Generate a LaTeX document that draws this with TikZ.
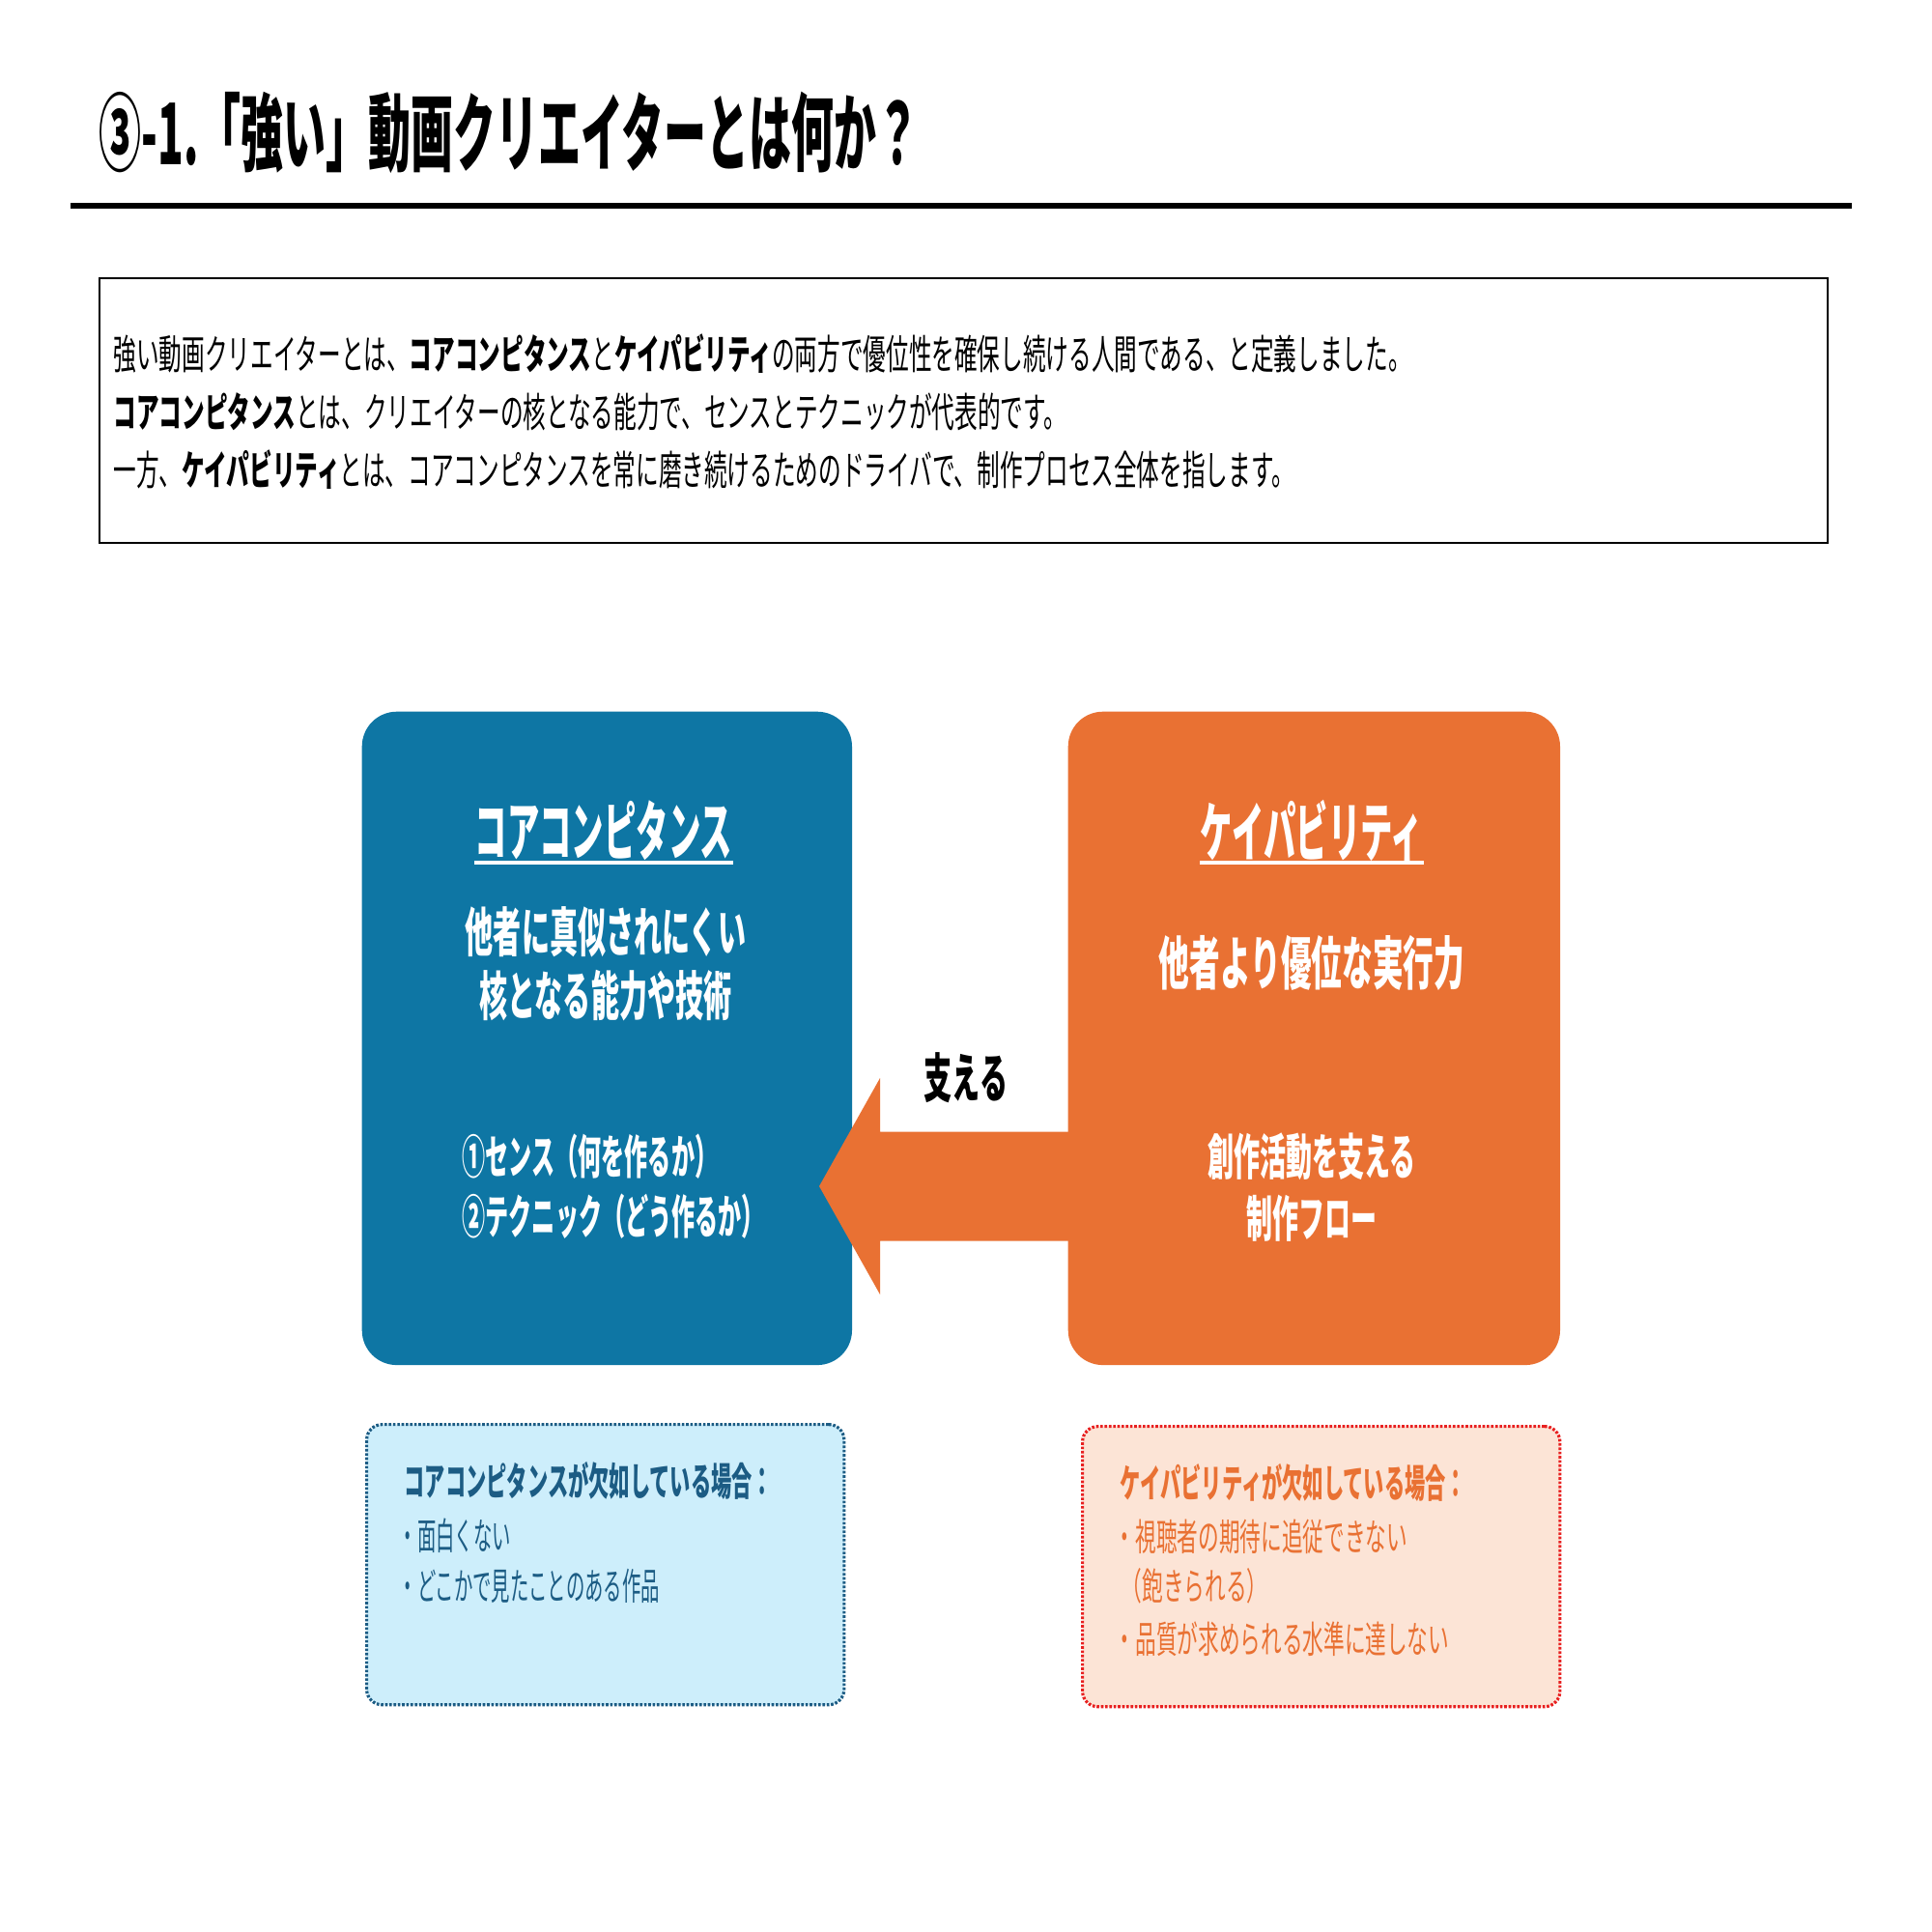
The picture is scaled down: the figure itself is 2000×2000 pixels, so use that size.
\documentclass[tikz,border=0pt]{standalone}
\usepackage{fontspec}
\usetikzlibrary{calc}
\setmainfont{Noto Sans CJK JP}
\newfontfamily\jpA{Noto Sans CJK JP}[FakeStretch=0.50]
\newfontfamily\jpB{Noto Sans CJK JP}[FakeStretch=0.53]
\newfontfamily\jpC{Noto Sans CJK JP}[FakeStretch=0.56]
\definecolor{cblue}{RGB}{14,118,164}
\definecolor{corange}{RGB}{233,113,51}
\definecolor{clblue}{RGB}{205,238,251}
\definecolor{cdblue}{RGB}{28,92,132}
\definecolor{clorange}{RGB}{252,228,214}
\definecolor{cred}{RGB}{232,32,32}
\tikzset{
  bigbox/.style={rounded corners=0.36cm, draw=none, anchor=north west, inner sep=0},
  lackbox/.style={rounded corners=0.16cm, line width=0.9pt, dash pattern=on 0.75pt off 0.5pt, anchor=north west, inner sep=0, minimum width=4.94cm, minimum height=2.90cm},
  txt/.style={inner sep=0, text depth=0pt},
  wtxt/.style={txt, text=white, align=center},
}
\begin{document}
\begin{tikzpicture}[x=0.01cm,y=-0.01cm]
\useasboundingbox (0,0) rectangle (2000,2000);
\fill[white] (0,0) rectangle (2000,2000);

% title
\node[txt, anchor=west, font=\jpA\bfseries\fontsize{25}{30}\selectfont] (title) at (102,133) {③-1.「強い」動画クリエイターとは何か？};
\coordinate (rl) at (73,213);
\coordinate (rr) at (1917,213);
\draw[line width=1.7pt] (rl) -- (rr);

% intro box
\node[draw, line width=0.6pt, anchor=north west, inner sep=0, minimum width=17.88cm, minimum height=2.74cm] (intro) at (102,287) {};
\node[txt, anchor=west, align=left, font=\jpC\fontsize{12}{17}\selectfont] (introtext) at (117,424)
{強い動画クリエイターとは、\textbf{コアコンピタンス}と\textbf{ケイパビリティ}の両方で優位性を確保し続ける人間である、と定義しました。\\
\textbf{コアコンピタンス}とは、クリエイターの核となる能力で、センスとテクニックが代表的です。\\
一方、\textbf{ケイパビリティ}とは、コアコンピタンスを常に磨き続けるためのドライバで、制作プロセス全体を指します。};

% main boxes
\node[bigbox, fill=cblue, minimum width=5.07cm, minimum height=6.76cm] (core) at (374,736) {};
\node[bigbox, fill=corange, minimum width=5.09cm, minimum height=6.76cm] (cap) at (1105,736) {};

% arrow
\coordinate (tip) at (848,1228);
\path (cap.west |- tip) coordinate (tail);
\fill[corange] ($(tail)+(4,-56.5)$) -- ($(tip)+(63,-56.5)$) -- ($(tip)+(63,-112)$) -- (tip)
  -- ($(tip)+(63,112)$) -- ($(tip)+(63,56.5)$) -- ($(tail)+(4,56.5)$) -- cycle;
\node[txt, font=\jpB\bfseries\fontsize{15.6}{18}\selectfont] (support) at (1000,1113) {支える};

% blue box texts
\node[wtxt, font=\jpA\bfseries\fontsize{19}{22}\selectfont] (h1) at (625,857) {コアコンピタンス};
\coordinate (ul1) at (0,893);
\draw[white, line width=0.9pt] (h1.west |- ul1) -- (h1.east |- ul1);
\node[wtxt, font=\jpB\bfseries\fontsize{15.6}{18.8}\selectfont] (s1) at (627,995) {他者に真似されにくい\\核となる能力や技術};
\node[txt, text=white, anchor=west, align=left, font=\jpA\bfseries\fontsize{13.7}{17.6}\selectfont] (p1) at (478,1226) {①センス（何を作るか）\\②テクニック（どう作るか）};

% orange box texts
\node[wtxt, font=\jpA\bfseries\fontsize{19}{22}\selectfont] (h2) at (1358,857) {ケイパビリティ};
\coordinate (ul2) at (0,893);
\draw[white, line width=0.9pt] (h2.west |- ul2) -- (h2.east |- ul2);
\node[wtxt, font=\jpB\bfseries\fontsize{17}{20}\selectfont] (s2) at (1358,994) {他者より優位な実行力};
\node[wtxt, font=\jpB\bfseries\fontsize{14.5}{18.2}\selectfont] (p2) at (1358,1227) {創作活動を支える\\制作フロー};

% lack boxes
\node[lackbox, draw=cdblue, fill=clblue] (lackcore) at (378,1473) {};
\node[lackbox, draw=cred, fill=clorange] (lackcap) at (1119,1475) {};

\node[txt, anchor=west, text=cdblue, font=\jpB\bfseries\fontsize{11.4}{15}\selectfont] (lh1) at (418,1531) {コアコンピタンスが欠如している場合：};
\node[txt, anchor=west, text=cdblue, font=\jpA\fontsize{11}{15}\selectfont] (ll1a) at (412,1588) {・面白くない};
\node[txt, anchor=west, text=cdblue, font=\jpA\fontsize{11}{15}\selectfont] (ll1b) at (412,1640) {・どこかで見たことのある作品};

\node[txt, anchor=west, text=corange, font=\jpB\bfseries\fontsize{11.4}{15}\selectfont] (lh2) at (1159,1533) {ケイパビリティが欠如している場合：};
\node[txt, anchor=west, text=corange, font=\jpC\fontsize{11}{15}\selectfont] (ll2a) at (1153,1589) {・視聴者の期待に追従できない};
\node[txt, anchor=west, text=corange, font=\jpC\fontsize{11}{15}\selectfont] (ll2b) at (1160,1640) {（飽きられる）};
\node[txt, anchor=west, text=corange, font=\jpC\fontsize{11}{15}\selectfont] (ll2c) at (1153,1695) {・品質が求められる水準に達しない};
\end{tikzpicture}
\end{document}
